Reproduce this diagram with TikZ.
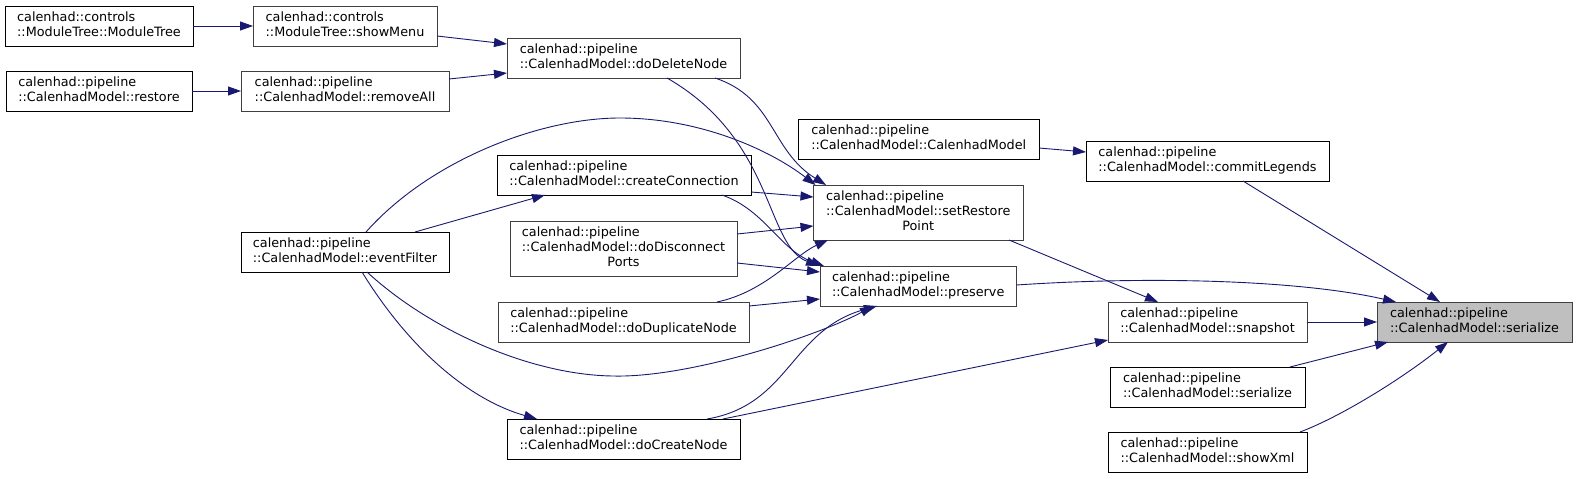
\documentclass[tikz,border=0pt]{standalone}
\usepackage{fontspec}
\setmainfont{DejaVu Sans}
\usetikzlibrary{arrows.meta,calc}
\definecolor{edgec}{HTML}{191970}
\definecolor{grayb}{HTML}{404040}
\definecolor{rootf}{HTML}{BFBFBF}
\newcommand\twol[2]{\begin{tabular}{@{}l@{}}#1\\#2\end{tabular}}
\newcommand\threel[3]{\begin{tabular}{@{}l@{}}#1\\#2\\\multicolumn{1}{@{}c@{}}{#3}\end{tabular}}
\begin{document}
\begin{tikzpicture}[x=1pt,y=-1pt,
  boxk/.style={draw=black,fill=white,rectangle,inner sep=0pt,outer sep=0pt,line width=1pt,
    minimum height=40pt,font=\fontsize{12.8}{15}\selectfont},
  boxg/.style={boxk,draw=grayb},
  edge/.style={draw=edgec,line width=0.9pt,-{Triangle[length=13pt,width=9pt]}}]
\useasboundingbox (0,0) rectangle (1577,479);
\fill[white] (0,0) rectangle (1577,479);
% nodes
\node[boxk,minimum width=188pt] (MT) at (99,26) {\twol{calenhad::controls}{::ModuleTree::ModuleTree}};
\node[boxg,minimum width=184pt] (SM) at (345,26) {\twol{calenhad::controls}{::ModuleTree::showMenu}};
\node[boxk,minimum width=186pt] (RS) at (99,91) {\twol{calenhad::pipeline}{::CalenhadModel::restore}};
\node[boxg,minimum width=208pt] (RA) at (345,91) {\twol{calenhad::pipeline}{::CalenhadModel::removeAll}};
\node[boxg,minimum width=233pt] (DD) at (623.5,58) {\twol{calenhad::pipeline}{::CalenhadModel::doDeleteNode}};
\node[boxk,minimum width=254pt] (CC) at (624,175) {\twol{calenhad::pipeline}{::CalenhadModel::createConnection}};
\node[boxg,minimum width=227pt,minimum height=55pt] (DP) at (623.5,248.5) {\threel{calenhad::pipeline}{::CalenhadModel::doDisconnect}{Ports}};
\node[boxk,minimum width=208pt] (EF) at (345,252) {\twol{calenhad::pipeline}{::CalenhadModel::eventFilter}};
\node[boxg,minimum width=251pt] (DU) at (623.5,322) {\twol{calenhad::pipeline}{::CalenhadModel::doDuplicateNode}};
\node[boxk,minimum width=233pt] (DC) at (623.5,439) {\twol{calenhad::pipeline}{::CalenhadModel::doCreateNode}};
\node[boxk,minimum width=240.5pt] (CM) at (918.75,139) {\twol{calenhad::pipeline}{::CalenhadModel::CalenhadModel}};
\node[boxg,minimum width=209.5pt,minimum height=55pt] (SR) at (918.25,212.5) {\threel{calenhad::pipeline}{::CalenhadModel::setRestore}{Point}};
\node[boxg,minimum width=196.5pt] (PR) at (918.25,286) {\twol{calenhad::pipeline}{::CalenhadModel::preserve}};
\node[boxk,minimum width=243pt] (CL) at (1207.5,161) {\twol{calenhad::pipeline}{::CalenhadModel::commitLegends}};
\node[boxg,minimum width=199pt] (SN) at (1207.5,322) {\twol{calenhad::pipeline}{::CalenhadModel::snapshot}};
\node[boxg,fill=rootf,minimum width=195pt] (SE) at (1474.5,322) {\twol{calenhad::pipeline}{::CalenhadModel::serialize}};
\node[boxk,minimum width=195pt] (S2) at (1207.5,387) {\twol{calenhad::pipeline}{::CalenhadModel::serialize}};
\node[boxk,minimum width=199pt] (SX) at (1207.5,452) {\twol{calenhad::pipeline}{::CalenhadModel::showXml}};
% edges
\draw[edge] (MT.east) -- (SM.west);
\draw[edge] ($(SM.north west)+(184,30)$) -- ($(DD.north west)+(0,6)$);
\draw[edge] (RS.east) -- (RA.west);
\draw[edge] ($(RA.north west)+(208,8)$) -- ($(DD.north west)+(0,35)$);
\draw[edge] ($(CM.north west)+(240.5,29)$) -- ($(CL.north west)+(0,11)$);
\draw[edge] ($(CL.north west)+(157,40)$) -- ($(SE.north west)+(63,0)$);
\draw[edge] ($(SR.north west)+(195.5,55)$) -- ($(SN.north west)+(50,0)$);
\draw[edge] ($(PR.north west)+(196.5,19)$) .. controls (1150,276) and (1300,280) .. ($(SE.north west)+(19,0)$);
\draw[edge] (SN.east) -- (SE.west);
\draw[edge] ($(S2.north west)+(180,0)$) -- ($(SE.north west)+(11,40)$);
\draw[edge] ($(SX.north west)+(192,0)$) .. controls (1340,417) and (1400,380) .. ($(SE.north west)+(71,40)$);
\draw[edge] ($(DC.north west)+(216,0)$) -- ($(SN.north west)+(0,38)$);
\draw[edge] ($(DD.north west)+(208,40)$) .. controls (775,98) and (770,150) .. ($(SR.north west)+(12.5,0)$);
\draw[edge] ($(EF.north west)+(125,0)$) .. controls (430,160) and (540,118) .. (620,118) .. controls (700,118) and (770,150) .. ($(SR.north west)+(2,0)$);
\draw[edge] ($(CC.north west)+(254,37)$) -- ($(SR.north west)+(0,12)$);
\draw[edge] ($(DP.north west)+(227,13)$) -- ($(SR.north west)+(0,41)$);
\draw[edge] ($(DU.north west)+(219,0)$) .. controls (765,292) and (795,255) .. ($(SR.north west)+(14.5,55)$);
\draw[edge] ($(DD.north west)+(160,40)$) .. controls (775,140) and (765,245) .. ($(PR.north west)+(-1,0)$);
\draw[edge] ($(CC.north west)+(225,40)$) .. controls (765,210) and (780,250) .. ($(PR.north west)+(4,0)$);
\draw[edge] ($(DP.north west)+(227,42)$) -- ($(PR.north west)+(0,6)$);
\draw[edge] ($(DU.north west)+(251,4)$) -- ($(PR.north west)+(0,33)$);
\draw[edge] ($(EF.north west)+(126,40)$) .. controls (430,330) and (530,375) .. (613,376) .. controls (690,378) and (820,335) .. ($(PR.north west)+(53,40)$);
\draw[edge] ($(DC.north west)+(200,0)$) .. controls (790,405) and (790,330) .. ($(PR.north west)+(57,40)$);
\draw[edge] ($(EF.north west)+(174,0)$) -- ($(CC.north west)+(48,40)$);
\draw[edge] ($(EF.north west)+(121,40)$) .. controls (410,350) and (470,400) .. ($(DC.north west)+(30,0)$);
\end{tikzpicture}
\end{document}
